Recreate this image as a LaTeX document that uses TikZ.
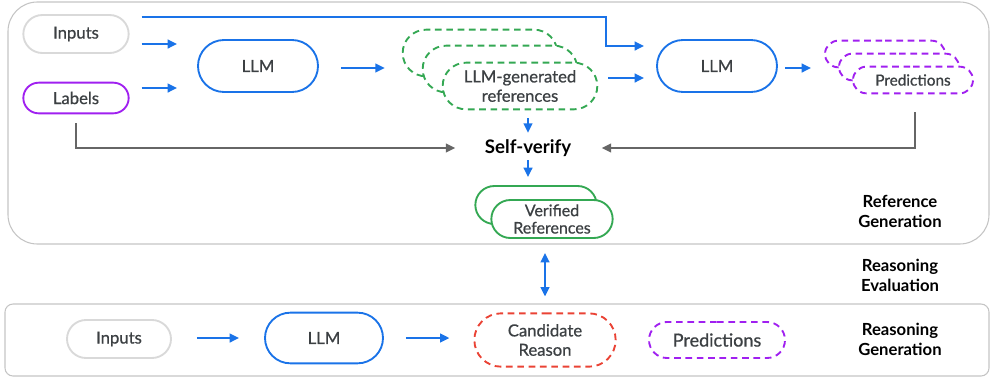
\documentclass[tikz,border=0pt]{standalone}
\usepackage{fontspec}
\setmainfont{Lato}
\newfontfamily\medfont{Lato}[RawFeature={embolden=0.7}]
\usetikzlibrary{arrows.meta, positioning, calc, shapes.misc}

\definecolor{gblue}{HTML}{1A73E8}
\definecolor{gpurple}{HTML}{A020F0}
\definecolor{ggreen}{HTML}{34A853}
\definecolor{gred}{HTML}{EA4335}
\definecolor{ggray}{HTML}{D9D9D9}
\definecolor{darrow}{HTML}{666666}
\definecolor{panel}{HTML}{C4C4C4}
\definecolor{txt}{HTML}{3C4043}

\begin{document}
\begin{tikzpicture}[
                x=0.75pt, y=-0.75pt,
                >={Triangle[length=7pt,width=6.5pt]},
                box/.style={rounded rectangle, draw, line width=1.4pt, fill=white, inner sep=0pt, align=center, text=txt, font=\medfont\fontsize{12.5}{14.5}\selectfont},
                dashbox/.style={box, dash pattern=on 5pt off 3.5pt},
                refbox/.style={dashbox, draw=ggreen, minimum width=116pt, minimum height=35pt},
                predbox/.style={dashbox, draw=gpurple, minimum width=90pt, minimum height=20pt, font=\medfont\fontsize{11.5}{13}\selectfont},
                verbox/.style={box, draw=ggreen, minimum width=91pt, minimum height=28.5pt, font=\medfont\fontsize{12}{13}\selectfont},
                llmbox/.style={box, draw=gblue, minimum width=90pt, minimum height=39pt},
                flow/.style={->, color=gblue, line width=1.5pt},
                fback/.style={->, color=darrow, line width=1.5pt},
                tag/.style={align=center, font=\bfseries\fontsize{12.5}{15}\selectfont}
        ]
        \useasboundingbox (0,0) rectangle (990,383);
        % panels
        \draw[panel, line width=0.8pt, rounded corners=22pt] (8,2) rectangle (989,244);
        \draw[panel, line width=0.8pt, rounded corners=6pt] (5,304) rectangle (989,376);

        % reference generation
        \node[box, draw=ggray, minimum width=79pt, minimum height=28.5pt] (in1) at (76,34) {Inputs};
        \node[box, draw=gpurple, minimum width=79pt, minimum height=23pt] (lab) at (76,98) {Labels};
        \node[llmbox] (llm1) at (258,66) {LLM};
        \node[refbox] (refc) at (480,53) {};
        \node[refbox] (refb) at (500,69) {};
        \node[refbox] (refa) at (520,86) {LLM-generated\\references};
        \node[font=\bfseries\fontsize{14}{16}\selectfont] (sv) at (528,148) {Self-verify};
        \node[verbox] (verb) at (536,205) {};
        \node[verbox] (vera) at (552,219) {Verified\\References};
        \node[llmbox] (llm2) at (717,66) {LLM};
        \node[predbox] (predc) at (885,54) {};
        \node[predbox] (predb) at (899,67) {};
        \node[predbox] (preda) at (913,80) {Predictions};

        \draw[flow] ($(in1.east)+(12,10)$) -- ($(llm1.west)+(-20,-22)$);
        \draw[flow] ($(lab.east)+(12,-10)$) -- ($(llm1.west)+(-20,22)$);
        \draw[flow] ($(llm1.east)+(22,2)$) -- ($(refb.west)+(-37,-1)$);
        \draw[flow] ($(in1.east)+(12,-17)$) -| ($(llm2.west)+(-50,-20)$) -- ($(llm2.west)+(-12,-20)$);
        \draw[flow] ($(refa.east)+(10,-8)$) -- ($(llm2.west)+(-12,12)$);
        \draw[flow] ($(llm2.east)+(7,2)$) -- ($(predc.west)+(-13,14)$);
        \draw[flow] ($(refa.south)+(8,8)$) -- ($(sv.north)+(0,-2)$);
        \draw[flow] ($(sv.south)+(0,-1)$) -- ($(verb.north)+(-8,-8)$);
        \draw[fback] ($(lab.south)+(0,9)$) |- ($(sv.west)+(-25,0)$);
        \draw[fback] ($(preda.south)+(2,18)$) |- ($(sv.east)+(26,0)$);

        % reasoning generation
        \node[box, draw=ggray, minimum width=78pt, minimum height=28.5pt] (in2) at (119,339) {Inputs};
        \node[llmbox, minimum width=88.5pt, minimum height=38pt] (llm3) at (324,338) {LLM};
        \node[dashbox, draw=gred, minimum width=106pt, minimum height=40pt] (cand) at (545,340) {Candidate\\Reason};
        \node[dashbox, draw=gpurple, minimum width=102pt, minimum height=27pt, font=\medfont\fontsize{13.5}{15}\selectfont] (pred2) at (717,340) {Predictions};

        \draw[flow] ($(in2.east)+(25,-1)$) -- ($(llm3.west)+(-25,0)$);
        \draw[flow] ($(llm3.east)+(22,0)$) -- ($(cand.west)+(-24,-2)$);
        \draw[flow, <->] ($(vera.south)+(-7,14)$) -- ($(cand.north)+(0,-16)$);

        \node[tag] at (900,211) {Reference\\Generation};
        \node[tag] at (900,275) {Reasoning\\Evaluation};
        \node[tag] at (900,339) {Reasoning\\Generation};
\end{tikzpicture}
\end{document}
